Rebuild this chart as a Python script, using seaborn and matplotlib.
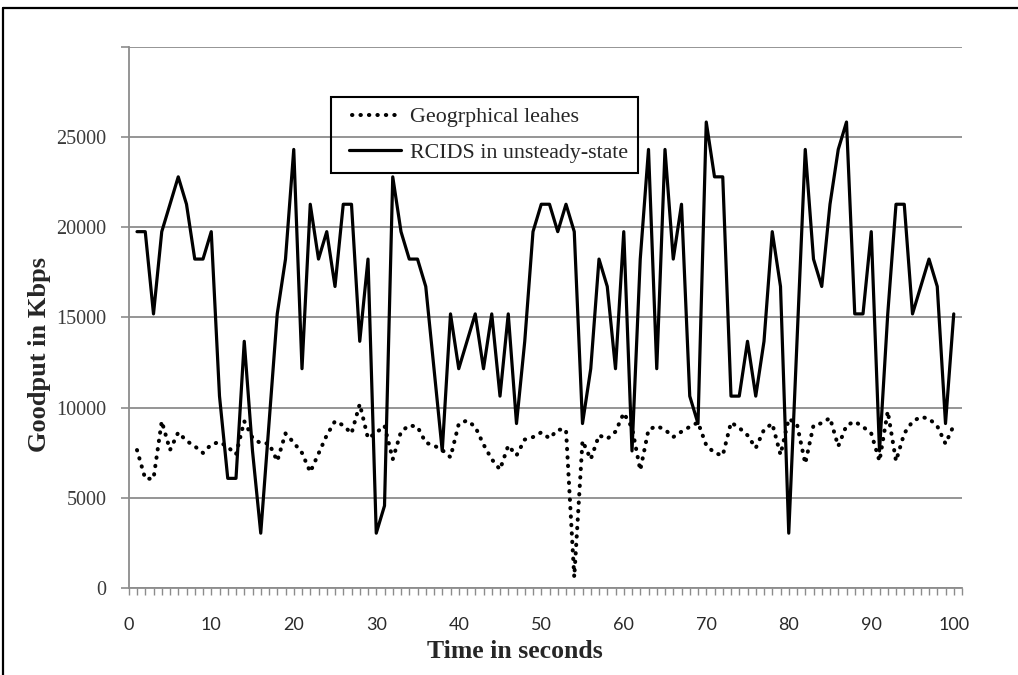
import numpy as np
import pandas as pd
import matplotlib
matplotlib.use("Agg")
import matplotlib.pyplot as plt
from matplotlib.lines import Line2D
from matplotlib.legend_handler import HandlerLine2D
from matplotlib.ticker import MultipleLocator
import seaborn as sns

# Time axis (seconds) and goodput samples (Kbps)
time_s = np.arange(1, 101)

rcids_kbps = [
    19760, 19760, 15200, 19760, 21280, 22800, 21280, 18240, 18240, 19760,
    10640, 6080, 6080, 13680, 7600, 3040, 9120, 15200, 18240, 24320,
    12160, 21280, 18240, 19760, 16720, 21280, 21280, 13680, 18240, 3040,
    4560, 22800, 19760, 18240, 18240, 16720, 12160, 7600, 15200, 12160,
    13680, 15200, 12160, 15200, 10640, 15200, 9120, 13680, 19760, 21280,
    21280, 19760, 21280, 19760, 9120, 12160, 18240, 16720, 12160, 19760,
    7600, 18240, 24320, 12160, 24320, 18240, 21280, 10640, 9120, 25840,
    22800, 22800, 10640, 10640, 13680, 10640, 13680, 19760, 16720, 3040,
    13680, 24320, 18240, 16720, 21280, 24320, 25840, 15200, 15200, 19760,
    7600, 15200, 21280, 21280, 15200, 16720, 18240, 16720, 9120, 15200,
]

geo_kbps = [
    7650, 6060, 6060, 9250, 7650, 8630, 8160, 7860, 7490, 7960,
    8100, 7820, 7410, 9250, 8330, 8020, 8020, 7040, 8570, 8060,
    7490, 6430, 7450, 8470, 9250, 9020, 8570, 10200, 8300, 8610,
    9000, 7140, 8670, 9020, 8940, 8060, 7900, 7650, 7250, 9100,
    9290, 8940, 7960, 7140, 6570, 7900, 7350, 8230, 8370, 8630,
    8300, 8780, 8780, 600, 8160, 7140, 8470, 8270, 8670, 9700,
    8900, 6530, 8780, 8980, 8780, 8370, 8670, 8940, 9180, 7920,
    7490, 7350, 9180, 8880, 8470, 7760, 8780, 9120, 7390, 9390,
    9080, 6900, 9020, 9140, 9430, 7860, 9020, 9230, 8940, 8570,
    7040, 9800, 7040, 8570, 9230, 9490, 9390, 8980, 8000, 9020,
]

series_labels = ["Geogrphical leahes", "RCIDS in unsteady-state"]
x_ticks = list(range(0, 101, 10))
y_ticks = list(range(0, 30001, 5000))
y_tick_labels = [str(v) for v in y_ticks[:-1]] + [""]

sns.set_style("white")
plt.rcParams["font.family"] = ["Liberation Serif", "DejaVu Serif"]

W, H = 1018, 675
fig = plt.figure(figsize=(W / 100, H / 100), dpi=100)
fig.patch.set_facecolor("white")

ax_left, ax_right, ax_top, ax_bottom = 128.75, 962.0, 47.0, 588.0
ax = fig.add_axes([ax_left / W, 1 - ax_bottom / H,
                   (ax_right - ax_left) / W, (ax_bottom - ax_top) / H])

df = pd.DataFrame({"t": time_s, "geo": geo_kbps, "rcids": rcids_kbps})

sns.lineplot(data=df, x="t", y="geo", ax=ax, color="black", lw=2.9,
             linestyle=(0, (0.1, 2.0)), dash_capstyle="round",
             label=series_labels[0])
sns.lineplot(data=df, x="t", y="rcids", ax=ax, color="black", lw=2.3,
             label=series_labels[1])

grid_gray = "#8c8c8c"
ax.set_xlim(0, 101)
ax.set_ylim(0, 30000)
ax.yaxis.grid(True, color=grid_gray, lw=1.3)
ax.xaxis.grid(False)
ax.set_axisbelow(True)

for side in ("top", "right"):
    ax.spines[side].set_visible(False)
for side in ("left", "bottom"):
    ax.spines[side].set_color(grid_gray)
    ax.spines[side].set_linewidth(1.3)

ax.set_yticks(y_ticks)
ax.set_yticklabels(y_tick_labels, fontsize=14.5, color="#3a3a3a",
                   family="Liberation Serif")
ax.tick_params(axis="y", left=True, direction="out", length=6, width=1.2,
               color=grid_gray, pad=10)

ax.set_xticks(x_ticks)
ax.set_xticklabels([str(v) for v in x_ticks], fontsize=13, color="#2a2a2a",
                   family="Lato")
ax.xaxis.set_minor_locator(MultipleLocator(1))
ax.tick_params(axis="x", which="both", bottom=True, direction="out",
               length=5, width=1.0, color=grid_gray)
ax.tick_params(axis="x", which="major", pad=16)

ax.set_xlabel("")
ax.set_ylabel("")
fig.text(515 / W, 1 - 652 / H, "Time in seconds", ha="center", va="center",
         fontsize=18.5, fontweight="bold", family="Liberation Serif")
fig.text(40 / W, 1 - 355 / H, "Goodput in Kbps", ha="center", va="center",
         rotation=90, fontsize=19, fontweight="bold", family="Liberation Serif")

handles, labels = ax.get_legend_handles_labels()
leg = ax.legend(handles, labels, loc="upper left",
                bbox_to_anchor=(331 / W, 1 - 97 / H),
                bbox_transform=fig.transFigure, borderaxespad=0,
                frameon=True, fancybox=False, facecolor="none",
                edgecolor="black", framealpha=1,
                handlelength=2.75, handletextpad=0.4, labelspacing=0.7,
                borderpad=0.45, prop={"family": "Liberation Serif", "size": 15.8},
                handler_map={handles[0]: HandlerLine2D(xpad=0.5),
                             handles[1]: HandlerLine2D(xpad=0.35)})
leg.get_frame().set_linewidth(1.5)

# Chart-area border on the top and left edges
fig.add_artist(Line2D([3 / W, 3 / W], [0, 1 - 8 / H], transform=fig.transFigure,
                      color="black", lw=1.6))
fig.add_artist(Line2D([3 / W, 1], [1 - 8 / H, 1 - 8 / H],
                      transform=fig.transFigure, color="black", lw=1.6))

fig.savefig("out.png", dpi=100, facecolor="white")
